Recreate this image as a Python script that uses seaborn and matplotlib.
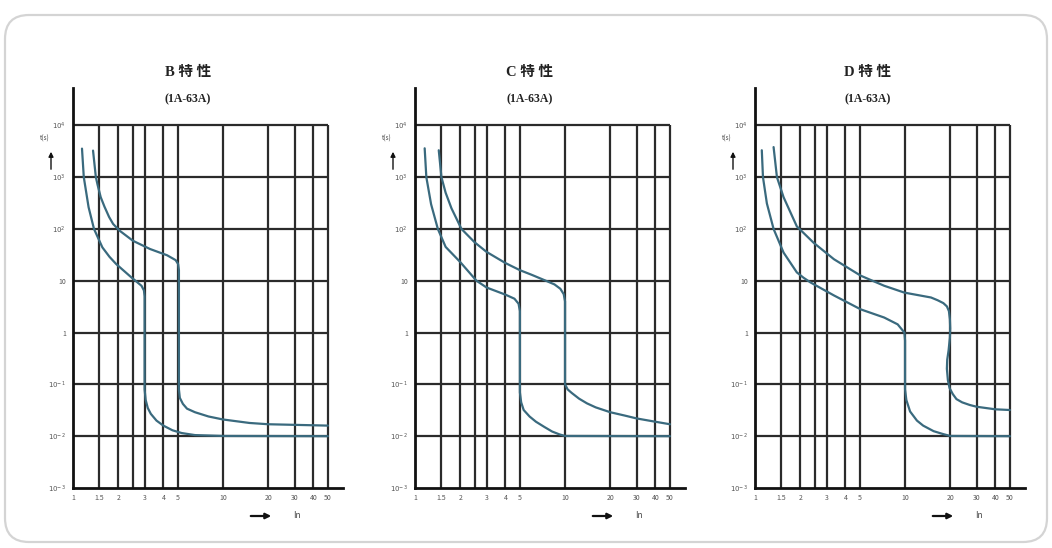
import numpy as np
import pandas as pd
import seaborn as sns
import matplotlib.pyplot as plt
from matplotlib.patches import FancyBboxPatch
from matplotlib.ticker import FixedLocator, NullFormatter

# dados das curvas: In (múltiplo) x tempo t(s)
b_lower_x = [1.148, 1.18, 1.27, 1.38, 1.57, 1.75, 1.94, 2.45, 2.86, 2.97, 3.0, 3.0, 3.05, 3.15, 3.3, 3.6, 4.0, 4.6, 5.3, 6.5, 10, 50]
b_lower_y = [3550, 1000, 263, 100, 44, 29, 21, 11.6, 8, 6.5, 5.0, 0.08, 0.05, 0.035, 0.027, 0.02, 0.016, 0.013, 0.0115, 0.0105, 0.0101, 0.01]
b_upper_x = [1.36, 1.42, 1.46, 1.53, 1.62, 1.74, 1.85, 2.04, 2.51, 3.26, 4.24, 4.83, 5.02, 5.08, 5.08, 5.15, 5.4, 5.75, 6.5, 8, 10, 15, 20, 50]
b_upper_y = [3250, 1000, 700, 410, 270, 170, 125, 93, 59, 41, 31, 25, 21, 16, 0.08, 0.055, 0.042, 0.034, 0.029, 0.024, 0.021, 0.018, 0.017, 0.016]

c_lower_x = [1.16, 1.19, 1.28, 1.42, 1.6, 2.0, 2.57, 3.0, 4.0, 4.6, 4.9, 5.0, 5.0, 5.1, 5.3, 5.8, 6.4, 7.3, 8.2, 9.2, 10, 50]
c_lower_y = [3600, 1000, 300, 100, 45, 23, 10, 7.4, 5.4, 4.5, 3.6, 2.6, 0.07, 0.045, 0.032, 0.024, 0.019, 0.015, 0.0123, 0.0108, 0.0101, 0.01]
c_upper_x = [1.44, 1.5, 1.6, 1.75, 2.04, 2.5, 3.0, 4.0, 5.0, 6.0, 7.45, 8.5, 9.3, 9.8, 10.0, 10.0, 10.4, 11.1, 12.4, 14, 16, 20, 25, 30, 40, 50]
c_upper_y = [3300, 1000, 500, 250, 100, 55, 36, 22, 16, 13, 10, 8.5, 7, 5.5, 4, 0.1, 0.08, 0.068, 0.053, 0.043, 0.036, 0.029, 0.025, 0.022, 0.019, 0.017]

d_lower_x = [1.11, 1.13, 1.2, 1.33, 1.55, 1.9, 2.1, 2.34, 3.36, 5.07, 7.26, 8.93, 9.9, 10.0, 10.0, 10.2, 10.8, 12, 13.2, 15.5, 17.9, 20, 50]
d_lower_y = [3300, 1000, 310, 100, 35, 14.5, 11.5, 9.3, 5.2, 2.8, 1.95, 1.44, 1.0, 0.7, 0.08, 0.05, 0.03, 0.02, 0.016, 0.0125, 0.011, 0.0101, 0.01]
d_upper_x = [1.33, 1.4, 1.55, 1.9, 2.46, 3.36, 5.07, 7.26, 9.9, 14.9, 16.5, 18.0, 19.0, 19.6, 19.9, 20.0, 19.9, 19.5, 19.1, 19.0, 19.3, 19.8, 20.8, 22, 24, 27, 30, 40, 50]
d_upper_y = [3800, 1000, 410, 112, 54, 26, 12.5, 8, 5.9, 4.75, 4.2, 3.7, 3.2, 2.6, 1.8, 1.2, 0.8, 0.45, 0.3, 0.2, 0.12, 0.085, 0.065, 0.052, 0.045, 0.04, 0.037, 0.033, 0.032]

titles = ["B 特 性", "C 特 性", "D 特 性"]
subtitle = "(1A-63A)"
panels = [
    (b_lower_x, b_lower_y, b_upper_x, b_upper_y),
    (c_lower_x, c_lower_y, c_upper_x, c_upper_y),
    (d_lower_x, d_lower_y, d_upper_x, d_upper_y),
]

x_grid = [1.5, 2, 2.5, 3, 4, 5, 10, 20, 30, 40, 50]
x_ticks = [1, 1.5, 2, 3, 4, 5, 10, 20, 30, 40, 50]
x_labels = ["1", "1.5", "2", "3", "4", "5", "10", "20", "30", "40", "50"]
y_ticks = [1e-3, 1e-2, 1e-1, 1, 10, 1e2, 1e3, 1e4]
y_labels = [r"$10^{-3}$", r"$10^{-2}$", r"$10^{-1}$", "1", "10", r"$10^{2}$", r"$10^{3}$", r"$10^{4}$"]

sns.set_style("white")
plt.rcParams['font.family'] = ['Noto Sans CJK SC', 'DejaVu Sans']

W, H = 1052, 548
fig = plt.figure(figsize=(W / 100, H / 100), dpi=100)

# moldura arredondada (coordenadas em pixels)
bg = fig.add_axes([0, 0, 1, 1], zorder=-5)
bg.set_xlim(0, W)
bg.set_ylim(H, 0)
bg.axis("off")
bg.add_patch(FancyBboxPatch((5, 15), 1042, 527, boxstyle="round,pad=0,rounding_size=24",
                            fc="white", ec="#d4d4d4", lw=1.6))

line_col = "#3a6a7e"
grid_col = "#2b2b2b"
left_px = [73, 415, 755]
title_px = [188, 530, 868]

for i, (lx, ly, ux, uy) in enumerate(panels):
    x0 = left_px[i]
    ax = fig.add_axes([x0 / W, 1 - 488 / H, 270 / W, 400 / H])
    ax.set_xscale("log")
    ax.set_yscale("log")

    df = pd.concat([
        pd.DataFrame({"In": lx, "t": ly, "curva": "min"}),
        pd.DataFrame({"In": ux, "t": uy, "curva": "max"}),
    ], ignore_index=True)
    sns.lineplot(data=df, x="In", y="t", hue="curva", units="curva", estimator=None,
                 sort=False, palette=[line_col, line_col], lw=1.6, legend=False, ax=ax, zorder=5)

    ax.set_xlim(1, 63)
    ax.set_ylim(1e-3, 10 ** 4.72)
    ax.hlines([1e-2, 1e-1, 1, 10, 1e2, 1e3, 1e4], 1, 50, color=grid_col, lw=1.6, zorder=2)
    ax.vlines(x_grid, 1e-3, 1e4, color=grid_col, lw=1.6, zorder=2)

    for s in ["top", "right"]:
        ax.spines[s].set_visible(False)
    for s in ["left", "bottom"]:
        ax.spines[s].set_color("#111111")
        ax.spines[s].set_linewidth(2.0)

    ax.xaxis.set_major_locator(FixedLocator(x_ticks))
    ax.set_xticklabels(x_labels)
    ax.xaxis.set_minor_locator(FixedLocator([]))
    ax.yaxis.set_major_locator(FixedLocator(y_ticks))
    ax.set_yticklabels(y_labels)
    ax.yaxis.set_minor_locator(FixedLocator([m * 10.0 ** e for e in range(-3, 4) for m in range(2, 10)]))
    ax.yaxis.set_minor_formatter(NullFormatter())
    ax.tick_params(axis="both", which="major", labelsize=5, colors="#555555", length=3, width=0.8, pad=2)
    ax.tick_params(axis="y", which="minor", length=1.5, width=0.5, color="#555555", direction="inout")
    ax.tick_params(axis="x", which="major", direction="inout", length=4)
    ax.set_xlabel("")
    ax.set_ylabel("")
    ax.patch.set_alpha(0)

    # títulos
    fig.text(title_px[i] / W, 1 - 72 / H, titles[i], ha="center", va="center",
             fontsize=10.5, fontweight="bold", color="#222222",
             family=["Liberation Serif", "Noto Sans CJK SC"])
    fig.text(title_px[i] / W, 1 - 99 / H, subtitle, ha="center", va="center",
             fontsize=8.5, family=["Liberation Serif"], fontweight="bold", color="#222222")

    # rótulo t(s) com seta
    fig.text((x0 - 28) / W, 1 - 139 / H, "t(s)", ha="center", va="center", fontsize=4.5, color="#444444")
    bg.annotate("", xy=(x0 - 22, 149), xytext=(x0 - 22, 172),
                arrowprops=dict(arrowstyle="-|>", color="#111111", lw=1.0, mutation_scale=7))
    # rótulo In com seta
    bg.annotate("", xy=(x0 + 201, 516), xytext=(x0 + 175, 516),
                arrowprops=dict(arrowstyle="-|>", color="#111111", lw=1.6, mutation_scale=8))
    fig.text((x0 + 224) / W, 1 - 516 / H, "In", ha="center", va="center", fontsize=6, color="#444444")

fig.savefig("out.png", dpi=100)
